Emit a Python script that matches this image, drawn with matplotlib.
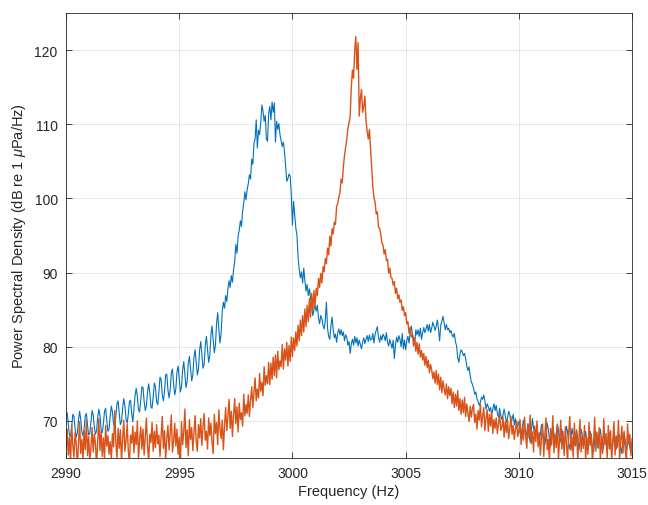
import numpy as np
import matplotlib
matplotlib.use("Agg")
import matplotlib.pyplot as plt

plt.rcParams["font.family"] = ["Liberation Sans", "DejaVu Sans"]
plt.rcParams["mathtext.fontset"] = "custom"
plt.rcParams["mathtext.rm"] = "Liberation Sans"
plt.rcParams["mathtext.it"] = "Liberation Sans:italic"

# frequency grid: 2990 .. 3015 Hz in 0.05 Hz steps (one row below = 1 Hz)
freq = np.round(np.arange(2990.0, 3015.0001, 0.05), 2)

# blue spectrum (dB re 1 uPa/Hz)
psd_blue = [
    70.8, 71.1, 69.6, 68.1, 67.9, 69.2, 70.9, 70.6, 68.9, 67.8, 68.4, 70.1, 71.3, 70.2, 68.5, 68.0, 69.0, 70.7, 71.0, 69.4,
    68.1, 68.3, 69.9, 71.4, 70.8, 69.1, 68.2, 68.7, 70.5, 71.6, 70.7, 68.8, 68.4, 69.6, 71.3, 71.7, 70.0, 68.6, 68.9, 70.6,
    72.0, 71.2, 69.5, 69.3, 70.6, 72.3, 72.7, 71.0, 69.5, 69.9, 71.7, 73.0, 72.1, 70.2, 69.7, 70.9, 72.6, 72.8, 71.0, 69.9,
    71.6, 73.4, 74.4, 73.3, 71.5, 71.2, 72.8, 74.6, 74.5, 72.6, 71.4, 72.0, 73.9, 75.0, 73.8, 71.9, 71.7, 73.3, 75.1, 74.6,
    72.6, 72.2, 73.8, 75.9, 75.6, 73.5, 72.7, 74.0, 76.2, 76.3, 74.2, 73.1, 74.2, 76.5, 77.0, 75.0, 73.5, 74.3, 76.6, 77.4,
    75.6, 73.9, 74.6, 76.9, 78.0, 76.3, 74.5, 75.3, 77.8, 78.7, 77.0, 75.4, 76.2, 78.6, 79.6, 77.9, 76.2, 77.0, 79.5, 80.7,
    79.0, 77.1, 77.6, 80.2, 81.4, 79.6, 77.9, 78.8, 81.6, 82.8, 80.9, 79.2, 80.3, 83.2, 84.6, 82.3, 80.5, 81.8, 84.8, 86.0,
    85.2, 86.9, 86.1, 87.8, 88.9, 88.0, 89.6, 88.7, 90.4, 91.5, 93.8, 92.6, 94.9, 95.7, 97.0, 96.2, 98.3, 99.4, 100.9, 99.8,
    101.2, 102.0, 103.2, 102.6, 105.3, 104.6, 107.4, 108.0, 110.6, 106.8, 109.2, 108.6, 110.2, 112.6, 111.8, 110.4, 111.2, 108.0, 107.7, 111.5,
    112.4, 110.6, 113.0, 111.6, 112.9, 107.6, 110.4, 109.3, 110.1, 108.6, 107.8, 107.0, 107.6, 106.3, 104.2, 102.3, 102.7, 103.3, 103.0, 100.4,
    96.4, 99.6, 97.8, 96.0, 95.0, 92.0, 90.4, 89.3, 90.1, 88.6, 90.6, 88.9, 87.5, 88.4, 86.9, 87.8, 86.6, 85.4, 84.2, 85.0,
    85.6, 84.8, 85.6, 83.9, 83.1, 84.2, 83.8, 82.9, 82.4, 83.5, 86.0, 82.5, 81.4, 81.0, 82.8, 84.0, 82.3, 81.2, 81.7, 80.6,
    81.9, 82.4, 81.6, 82.3, 81.5, 82.0, 80.8, 81.6, 81.3, 80.2, 80.7, 79.1, 80.4, 81.0, 80.2, 81.4, 80.5, 81.2, 80.1, 80.9,
    80.3, 79.7, 80.6, 81.2, 80.4, 81.0, 81.5, 80.7, 81.6, 80.9, 81.0, 81.8, 80.5, 81.7, 82.2, 82.7, 81.3, 80.6, 81.5, 80.9,
    81.7, 81.4, 80.8, 81.9, 80.6, 80.1, 81.0, 80.4, 79.8, 80.9, 78.4, 80.2, 81.3, 80.6, 81.5, 81.0, 80.0, 81.8, 79.7, 80.9,
    79.6, 80.8, 81.4, 80.5, 81.9, 82.8, 81.7, 80.9, 80.6, 82.3, 81.6, 82.3, 81.4, 82.5, 81.0, 81.9, 82.6, 81.9, 82.4, 83.0,
    82.1, 83.0, 81.9, 82.5, 83.3, 82.8, 82.2, 82.8, 83.6, 82.4, 80.8, 82.9, 83.5, 84.1, 83.2, 82.3, 83.0, 82.3, 82.5, 81.9,
    82.2, 81.6, 81.3, 81.8, 80.7, 80.1, 78.5, 77.9, 79.0, 79.6, 79.3, 78.8, 79.1, 78.4, 77.4, 76.8, 77.3, 76.1, 75.3, 74.9,
    74.4, 73.6, 73.9, 73.0, 72.6, 72.1, 72.5, 73.2, 72.9, 73.5, 72.7, 71.6, 72.3, 71.9, 71.3, 71.8, 70.9, 71.6, 72.3, 71.4,
    72.1, 71.0, 70.5, 71.7, 70.8, 70.2, 70.8, 71.6, 70.7, 69.8, 70.4, 71.3, 70.9, 69.6, 70.2, 70.9, 69.5, 70.3, 69.1, 69.5,
    69.9, 68.5, 67.6, 68.9, 70.1, 69.2, 67.8, 68.4, 69.6, 68.2, 67.1, 68.7, 70.3, 69.0, 67.9, 68.5, 69.4, 68.0, 66.9, 68.3,
    69.5, 68.6, 67.2, 66.8, 68.1, 69.7, 68.9, 67.5, 66.5, 67.9, 69.2, 68.3, 67.0, 68.4, 69.6, 68.8, 66.9, 67.6, 68.9, 67.7,
    66.6, 67.8, 69.3, 68.5, 66.9, 66.2, 67.7, 69.0, 68.1, 66.8, 67.4, 68.7, 67.6, 66.0, 67.2, 68.9, 68.2, 66.7, 67.5, 68.6,
    67.3, 66.1, 67.0, 68.6, 67.9, 66.4, 65.8, 67.4, 68.5, 67.2, 66.3, 67.8, 68.9, 67.5, 66.0, 66.8, 68.2, 67.1, 65.9, 67.3,
    68.4, 67.0, 65.7, 66.9, 68.3, 67.6, 66.2, 66.7, 67.9, 68.1, 66.5, 65.6, 67.2, 68.4, 67.3, 66.0, 66.8, 67.7, 66.4, 65.8,
    67.0,
]

# orange spectrum (dB re 1 uPa/Hz)
psd_orange = [
    66.2, 68.9, 65.4, 67.8, 64.3, 69.5, 66.7, 65.1, 68.4, 67.0, 63.9, 66.8, 69.9, 65.6, 67.5, 64.8, 68.7, 66.1, 70.2, 65.3,
    67.9, 64.6, 66.4, 69.1, 65.8, 68.2, 66.9, 63.8, 67.4, 70.3, 66.0, 68.6, 65.2, 67.7, 64.9, 69.4, 66.6, 68.0, 65.5, 67.2,
    64.7, 68.3, 66.5, 71.4, 67.1, 65.0, 69.0, 66.3, 68.8, 64.5, 67.6, 70.1, 65.9, 67.3, 69.6, 66.0, 64.2, 68.1, 67.0, 69.3,
    65.7, 68.5, 66.8, 70.0, 64.9, 67.5, 69.2, 66.2, 68.9, 65.4, 67.8, 70.4, 66.6, 64.6, 68.2, 67.1, 69.8, 65.9, 68.6, 66.4,
    69.5, 66.9, 68.1, 65.2, 67.9, 70.6, 66.3, 68.7, 64.8, 67.6, 69.4, 66.1, 68.3, 70.8, 65.8, 67.2, 69.7, 66.6, 68.9, 65.5,
    67.8, 63.7, 69.9, 66.8, 68.5, 71.6, 66.4, 68.8, 65.3, 70.2, 67.5, 69.1, 66.0, 68.4, 70.7, 67.2, 65.9, 69.5, 67.7, 70.3,
    66.7, 69.2, 71.0, 67.4, 68.6, 66.2, 70.4, 68.0, 69.7, 67.1, 65.6, 70.9, 68.3, 69.8, 66.8, 71.5, 68.9, 67.6, 70.1, 66.1,
    69.4, 71.8, 68.7, 70.6, 72.9, 69.0, 71.3, 67.9, 70.8, 73.0, 69.6, 71.9, 68.5, 72.4, 70.2, 71.1, 69.3, 73.6, 70.7, 72.2,
    71.0, 73.5, 70.6, 72.8, 74.6, 71.8, 73.9, 75.8, 72.7, 74.3, 73.1, 76.4, 74.0, 75.2, 73.4, 77.3, 74.8, 76.1, 75.0, 77.9,
    74.9, 77.8, 75.6, 78.6, 76.1, 78.9, 75.8, 79.4, 76.9, 78.1, 77.3, 80.3, 77.0, 79.7, 78.2, 80.6, 77.4, 80.2, 78.0, 81.3,
    78.7, 81.2, 79.5, 82.0, 80.1, 82.9, 80.8, 83.6, 81.5, 84.2, 82.0, 85.1, 82.7, 85.6, 83.4, 86.5, 84.0, 87.2, 84.9, 87.6,
    85.4, 87.9, 86.9, 89.2, 88.0, 89.9, 88.6, 90.8, 90.1, 91.9, 91.2, 93.3, 92.4, 94.9, 93.6, 95.9, 95.2, 96.8, 96.5, 98.9,
    99.3, 100.2, 100.8, 102.6, 102.1, 104.3, 105.8, 106.9, 108.0, 109.4, 110.2, 111.1, 115.0, 117.3, 116.2, 120.0, 121.8, 117.4, 121.0, 111.1,
    113.5, 114.7, 111.6, 112.4, 113.8, 110.5, 109.0, 108.0, 109.3, 106.7, 104.0, 101.6, 100.1, 99.5, 97.9, 98.2, 96.1, 96.0, 95.2, 94.0,
    93.7, 92.5, 93.1, 91.6, 91.8, 89.9, 90.6, 89.4, 89.2, 88.3, 88.8, 87.2, 87.9, 86.5, 87.0, 86.0, 86.3, 84.9, 85.4, 84.2,
    84.6, 83.1, 83.4, 81.8, 82.6, 81.3, 81.7, 80.1, 81.2, 79.4, 80.6, 79.0, 80.4, 78.6, 79.5, 78.2, 79.1, 77.5, 78.7, 77.2,
    78.2, 76.5, 77.6, 76.9, 75.7, 76.6, 75.1, 76.8, 74.9, 76.3, 74.2, 75.9, 73.8, 75.4, 74.3, 73.5, 75.0, 73.0, 74.6, 73.4,
    74.4, 72.3, 73.9, 71.8, 73.6, 72.0, 74.1, 71.4, 73.0, 70.9, 72.8, 71.1, 73.2, 70.6, 72.3, 71.0, 69.9, 72.0, 70.5, 71.7,
    72.2, 69.8, 70.9, 68.9, 71.4, 70.1, 72.3, 69.2, 70.6, 71.8, 68.7, 70.4, 71.5, 68.6, 70.9, 69.3, 71.2, 68.3, 70.2, 69.0,
    70.4, 68.3, 69.6, 70.9, 68.7, 69.2, 70.5, 67.8, 69.9, 68.4, 70.1, 67.6, 69.0, 70.6, 68.2, 69.4, 67.5, 68.9, 70.0, 67.9,
    68.7, 70.2, 66.8, 69.1, 67.4, 70.5, 68.0, 66.3, 69.6, 67.7, 70.8, 66.9, 68.5, 65.8, 69.3, 67.2, 70.0, 66.5, 68.4, 65.4,
    67.9, 69.6, 65.2, 68.3, 70.4, 66.1, 67.5, 64.6, 69.0, 66.8, 70.7, 65.7, 68.1, 66.4, 69.5, 64.9, 67.6, 70.1, 66.2, 68.6,
    65.3, 69.2, 67.0, 64.4, 68.4, 70.6, 66.0, 67.8, 65.1, 69.7, 66.6, 68.8, 64.7, 67.4, 70.2, 65.8, 68.0, 66.3, 69.4, 64.8,
    67.7, 65.5, 69.8, 66.7, 68.2, 64.3, 67.1, 70.5, 65.9, 68.5, 66.4, 69.1, 64.9, 67.9, 65.6, 70.3, 66.8, 68.3, 65.0, 69.4,
    66.2, 68.7, 64.6, 67.4, 69.9, 65.4, 68.0, 66.5, 70.1, 64.8, 67.2, 69.3, 65.7, 68.6, 66.1, 64.5, 69.6, 66.9, 68.2, 65.3,
    67.6,
]

x_ticks = [2990, 2995, 3000, 3005, 3010, 3015]
y_ticks = [70, 80, 90, 100, 110, 120]

fig = plt.figure(figsize=(6.48, 5.06), dpi=100)
ax = fig.add_axes([0.1019, 0.0929, 0.8735, 0.8794])

ax.plot(freq, psd_blue, color="#0072BD", lw=0.8)
ax.plot(freq, psd_orange, color="#D95319", lw=1.0)

ax.set_xlim(2990, 3015)
ax.set_ylim(65, 125)
ax.set_xticks(x_ticks)
ax.set_yticks(y_ticks)
ax.grid(True, color="#262626", alpha=0.12, lw=0.6)
ax.set_axisbelow(True)

for s in ax.spines.values():
    s.set_color("#262626")
    s.set_linewidth(0.6)
ax.tick_params(direction="in", length=4, width=0.6, colors="#262626",
               labelsize=10, top=True, right=True, pad=6)
for lab in ax.get_xticklabels() + ax.get_yticklabels():
    lab.set_color("#262626")

ax.set_xlabel("Frequency (Hz)", fontsize=10.5, color="#262626", labelpad=3)
ax.set_ylabel(r"Power Spectral Density (dB re 1 $\mu$Pa/Hz)", fontsize=10.5,
              color="#262626", labelpad=5)

fig.savefig("out.png", dpi=100)
